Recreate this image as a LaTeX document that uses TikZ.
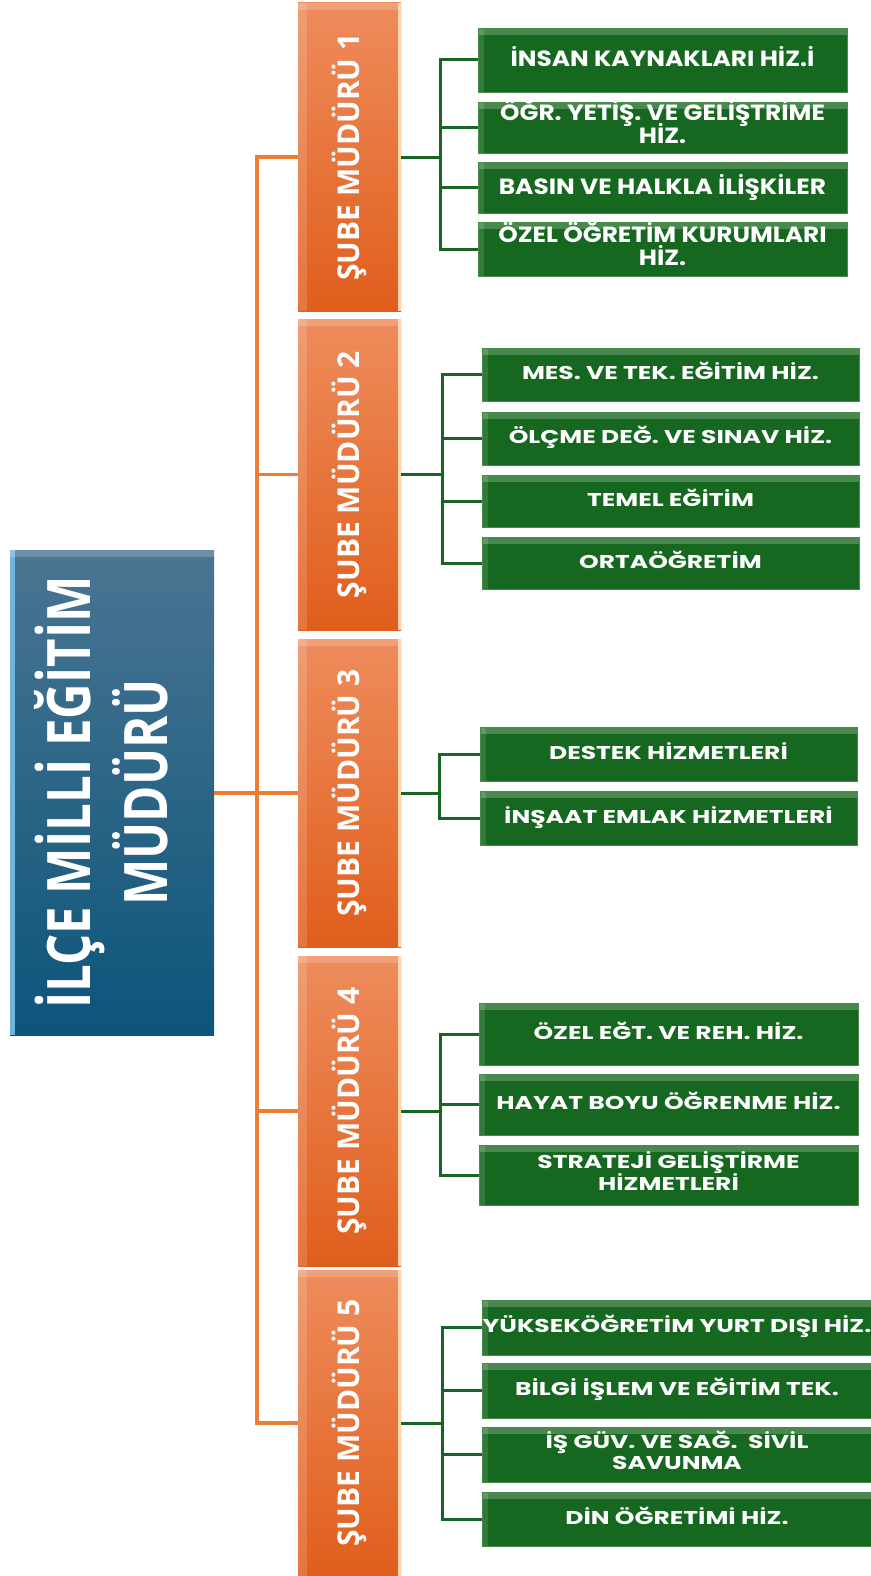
\documentclass[tikz,border=0pt]{standalone}
\usepackage{fontspec}
\usepackage{graphicx}
\setmainfont{Open Sans}
\newfontfamily\gfont{Poppins}
\usetikzlibrary{calc}
\definecolor{gmain}{RGB}{22,104,32}
\definecolor{gedge}{RGB}{70,140,72}
\definecolor{otop}{RGB}{238,140,92}
\definecolor{obot}{RGB}{224,94,28}
\definecolor{oedge}{RGB}{255,215,175}
\definecolor{btop}{RGB}{74,117,146}
\definecolor{bbot}{RGB}{12,85,122}
\definecolor{bedge}{RGB}{110,180,220}
\definecolor{oline}{RGB}{237,125,49}
\definecolor{gline}{RGB}{25,100,35}
\newcommand\gsc[2][1.35]{\scalebox{#1}[1]{\begin{tabular}{@{}c@{}}#2\end{tabular}}}
\newcommand\gtwo[3][1.35]{\scalebox{#1}[1]{\begin{tabular}{@{}c@{}}\smash{#2}\\\smash{#3}\end{tabular}}}
\tikzset{
  box/.style={inner sep=0pt, outer sep=0pt, anchor=north west, text=white, align=center},
  gbox/.style={box, fill=gmain, draw=gedge, line width=0.8pt,
    font=\gfont\bfseries\fontsize{18.5}{21.5}\selectfont,
    path picture={
      \fill[white, opacity=0.22] (path picture bounding box.north west) rectangle ([yshift=-7pt]path picture bounding box.north east);
      \fill[white, opacity=0.12] (path picture bounding box.north west) rectangle ([xshift=6pt]path picture bounding box.south west);
    }},
  gboxA/.style={gbox, font=\gfont\bfseries\fontsize{22}{23}\selectfont},
  obox/.style={box, top color=otop, bottom color=obot,
    font=\bfseries\fontsize{30}{36}\selectfont,
    path picture={
      \fill[white, opacity=0.15] (path picture bounding box.north west) rectangle ([xshift=9pt]path picture bounding box.south west);
      \fill[white, opacity=0.18] (path picture bounding box.north west) rectangle ([yshift=-7pt]path picture bounding box.north east);
      \fill[oedge] ([xshift=-3pt]path picture bounding box.north east) rectangle (path picture bounding box.south east);
    }},
  bbox/.style={box, top color=btop, bottom color=bbot,
    font=\bfseries\fontsize{60}{73}\selectfont,
    path picture={
      \fill[bedge] (path picture bounding box.north west) rectangle ([xshift=5pt]path picture bounding box.south west);
      \fill[white, opacity=0.2] (path picture bounding box.north west) rectangle ([yshift=-7pt]path picture bounding box.north east);
    }},
  oconn/.style={draw=oline, line width=3.5pt},
  gconn/.style={draw=gline, line width=3pt},
}
\begin{document}
\begin{tikzpicture}[x=1pt,y=-1pt]
\useasboundingbox (0,0) rectangle (870,1576);

% main box
\node[bbox, minimum width=204pt, minimum height=485pt] (blue) at (10,550)
  {\rotatebox{90}{\scalebox{0.82}[1]{\begin{tabular}{@{}c@{}}İLÇE MİLLİ EĞİTİM\\MÜDÜRÜ\end{tabular}}}};

% branch boxes
\node[obox, minimum width=103pt, minimum height=308pt] (o1) at (298,3) {\rotatebox{90}{ŞUBE MÜDÜRÜ 1}};
\node[obox, minimum width=103pt, minimum height=311pt] (o2) at (298,319) {\rotatebox{90}{ŞUBE MÜDÜRÜ 2}};
\node[obox, minimum width=103pt, minimum height=308pt] (o3) at (298,639) {\rotatebox{90}{ŞUBE MÜDÜRÜ 3}};
\node[obox, minimum width=103pt, minimum height=310pt] (o4) at (298,956) {\rotatebox{90}{ŞUBE MÜDÜRÜ 4}};
\node[obox, minimum width=103pt, minimum height=306pt] (o5) at (298,1270) {\rotatebox{90}{ŞUBE MÜDÜRÜ 5}};

% group 1
\node[gboxA, minimum width=369pt, minimum height=64pt] (g11) at (478,28) {\gsc[1.13]{İNSAN KAYNAKLARI HİZ.İ}};
\node[gboxA, minimum width=369pt, minimum height=51pt] (g12) at (478,102) {\gtwo[1.13]{ÖĞR. YETİŞ. VE GELİŞTRİME}{HİZ.}};
\node[gboxA, minimum width=369pt, minimum height=51pt] (g13) at (478,162) {\gsc[1.13]{BASIN VE HALKLA İLİŞKİLER}};
\node[gboxA, minimum width=369pt, minimum height=54pt] (g14) at (478,222) {\gtwo[1.13]{ÖZEL ÖĞRETİM KURUMLARI}{HİZ.}};

% group 2
\node[gbox, minimum width=377pt, minimum height=53pt] (g21) at (482,348) {\gsc{MES. VE TEK. EĞİTİM HİZ.}};
\node[gbox, minimum width=377pt, minimum height=53pt] (g22) at (482,412) {\gsc{ÖLÇME DEĞ. VE SINAV HİZ.}};
\node[gbox, minimum width=377pt, minimum height=52pt] (g23) at (482,475) {\gsc{TEMEL EĞİTİM}};
\node[gbox, minimum width=377pt, minimum height=52pt] (g24) at (482,537) {\gsc{ORTAÖĞRETİM}};

% group 3
\node[gbox, minimum width=377pt, minimum height=54pt] (g31) at (480,727) {\gsc{DESTEK HİZMETLERİ}};
\node[gbox, minimum width=377pt, minimum height=54pt] (g32) at (480,791) {\gsc{İNŞAAT EMLAK HİZMETLERİ}};

% group 4
\node[gbox, minimum width=379pt, minimum height=62pt] (g41) at (479,1003) {\gsc{ÖZEL EĞT. VE REH. HİZ.}};
\node[gbox, minimum width=379pt, minimum height=61pt] (g42) at (479,1074) {\gsc{HAYAT BOYU ÖĞRENME HİZ.}};
\node[gbox, minimum width=379pt, minimum height=60pt] (g43) at (479,1145) {\gtwo{STRATEJİ GELİŞTİRME}{HİZMETLERİ}};

% group 5
\node[gbox, minimum width=390pt, minimum height=55pt] (g51) at (482,1300) {\gsc{YÜKSEKÖĞRETİM YURT DIŞI HİZ.}};
\node[gbox, minimum width=390pt, minimum height=55pt] (g52) at (482,1363) {\gsc{BİLGİ İŞLEM VE EĞİTİM TEK.}};
\node[gbox, minimum width=390pt, minimum height=55pt] (g53) at (482,1427) {\gtwo{İŞ GÜV. VE SAĞ.\ \ SİVİL}{SAVUNMA}};
\node[gbox, minimum width=390pt, minimum height=54pt] (g54) at (482,1492) {\gsc{DİN ÖĞRETİMİ HİZ.}};

% orange connectors
\coordinate (ot) at (257,793);
\draw[oconn] (o1.west) -| (ot) |- (o5.west);
\draw[oconn] (o2.west) -- (o2.west -| ot);
\draw[oconn] (o4.west) -- (o4.west -| ot);
\draw[oconn] (blue.east |- o3.west) -- (o3.west);

% green connectors
\coordinate (t1) at (440,0);
\coordinate (t2) at (442,0);
\coordinate (t3) at (439,0);
\coordinate (t4) at (440,0);
\coordinate (t5) at (442,0);
\draw[gconn] (o1.east) -- (o1.east -| t1);
\draw[gconn] (g11.west) -| (t1 |- g11.west) |- (g14.west);
\draw[gconn] (g12.west) -- (g12.west -| t1);
\draw[gconn] (g13.west) -- (g13.west -| t1);

\draw[gconn] (o2.east) -- (o2.east -| t2);
\draw[gconn] (g21.west) -| (t2 |- g21.west) |- (g24.west);
\draw[gconn] (g22.west) -- (g22.west -| t2);
\draw[gconn] (g23.west) -- (g23.west -| t2);

\draw[gconn] (o3.east) -- (o3.east -| t3);
\draw[gconn] (g31.west) -| (t3 |- g31.west) |- (g32.west);

\draw[gconn] (o4.east) -- (o4.east -| t4);
\draw[gconn] (g41.west) -| (t4 |- g41.west) |- (g43.west);
\draw[gconn] (g42.west) -- (g42.west -| t4);

\draw[gconn] (o5.east) -- (o5.east -| t5);
\draw[gconn] (g51.west) -| (t5 |- g51.west) |- (g54.west);
\draw[gconn] (g52.west) -- (g52.west -| t5);
\draw[gconn] (g53.west) -- (g53.west -| t5);
\end{tikzpicture}
\end{document}
